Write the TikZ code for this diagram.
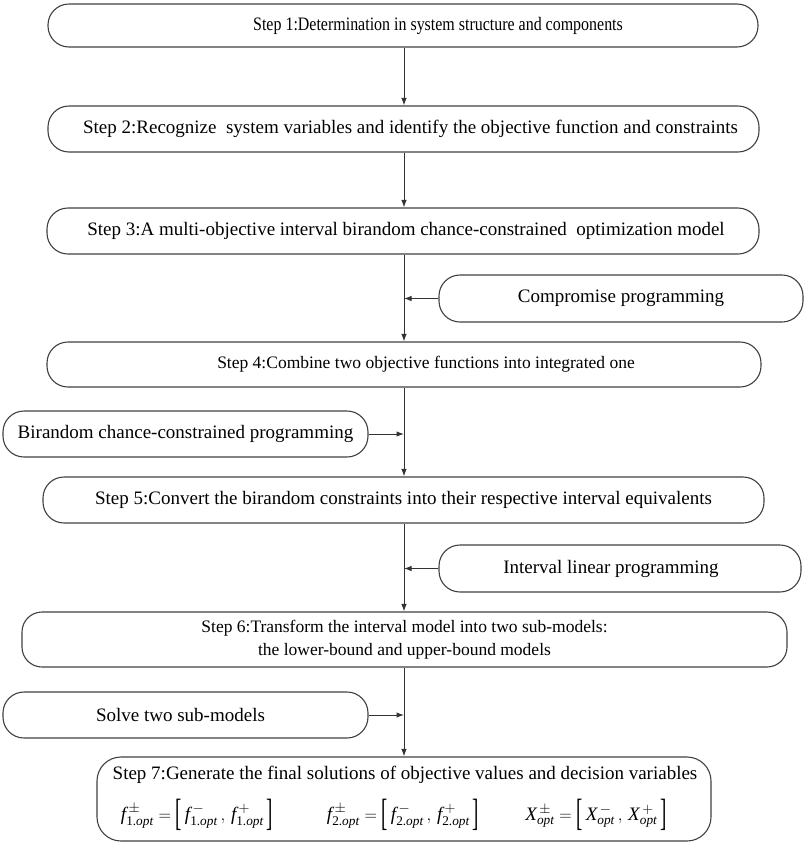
\documentclass[tikz,border=0pt]{standalone}
\usepackage{amsmath}
\usepackage{fontspec}
\setmainfont{Liberation Serif}
\usetikzlibrary{arrows.meta}
\newcommand{\mylb}{\raisebox{-0.62ex}{\scalebox{1}[2.0]{[}}}
\newcommand{\myrb}{\raisebox{-0.62ex}{\scalebox{1}[2.0]{]}}}
\begin{document}
\begin{tikzpicture}[x=1pt,y=-1pt,
  box/.style={draw=black!75, line width=1.1pt, rounded corners=21pt, inner sep=0pt,
     font=\fontsize{19}{22}\selectfont, align=center},
  smallfont/.style={font=\fontsize{17.5}{23}\selectfont},
  txt/.style={inner sep=0pt, font=\fontsize{19}{22}\selectfont},
  mathtxt/.style={inner sep=0pt, font=\fontsize{19}{20}\selectfont},
  conn/.style={draw=black!80, line width=1pt},
  arr/.style={conn, -{Latex[length=7.5pt,width=5.5pt]}}
]
\useasboundingbox (0,0) rectangle (809,844);
\node[box, minimum width=710pt, minimum height=43pt] (b1) at (403,25.5) {\hspace*{70pt}\scalebox{0.84}[1]{Step 1:Determination in system structure and components}};
\node[box, minimum width=711pt, minimum height=46pt] (b2) at (403.5,129) {\hspace*{14pt}Step 2:Recognize\ \ system variables and identify the objective function and constraints};
\node[box, minimum width=712pt, minimum height=46pt] (b3) at (403,231) {\hspace*{6pt}Step 3:A multi-objective interval birandom chance-constrained\ \ optimization model};
\node[box, minimum width=364pt, minimum height=47pt] (cp) at (621,298.5) {Compromise programming};
\node[box, smallfont, minimum width=714pt, minimum height=45pt] (b4) at (404,364.5) {\hspace*{44pt}Step 4:Combine two objective functions into integrated one};
\node[box, minimum width=365pt, minimum height=46pt] (br) at (185.5,434) {Birandom chance-constrained programming};
\node[box, minimum width=721pt, minimum height=46pt] (b5) at (403.5,500) {Step 5:Convert the birandom constraints into their respective interval equivalents};
\node[box, minimum width=362pt, minimum height=47pt] (il) at (620,568.5) {Interval linear programming\hspace*{18pt}};
\node[box, smallfont, minimum width=765pt, minimum height=55pt, rounded corners=20pt] (b6) at (404.5,639.5) {Step 6:Transform the interval model into two sub-models:\\the lower-bound and upper-bound models};
\node[box, minimum width=365pt, minimum height=46pt] (sv) at (185.5,715) {Solve two sub-models\hspace*{10pt}};
\node[box, minimum width=614pt, minimum height=84pt, rounded corners=24pt] (b7) at (404,799) {};
\node[txt] (t7) at (405,775) {Step 7:Generate the final solutions of objective values and decision variables};
\node[mathtxt] (f1) at (197,815) {$\textit{f}^{\,\pm}_{\text{1.}\textit{opt}} = \mylb\,\textit{f}^{\,-}_{\text{1.}\textit{opt}}\, ,\, \textit{f}^{\,+}_{\text{1.}\textit{opt}}\,\myrb$};
\node[mathtxt] (f2) at (403,815) {$\textit{f}^{\,\pm}_{\text{2.}\textit{opt}} = \mylb\,\textit{f}^{\,-}_{\text{2.}\textit{opt}}\, ,\, \textit{f}^{\,+}_{\text{2.}\textit{opt}}\,\myrb$};
\node[mathtxt] (f3) at (596,815) {$\textit{X}^{\,\pm}_{\textit{opt}} = \mylb\,\textit{X}^{\,-}_{\textit{opt}}\, ,\, \textit{X}^{\,+}_{\textit{opt}}\,\myrb$};
% main flow
\coordinate (mx) at (404,0);
\draw[arr] (mx |- b1.south) -- (mx |- b2.north);
\draw[arr] (mx |- b2.south) -- (mx |- b3.north);
\draw[arr] (mx |- b3.south) -- (mx |- b4.north);
\draw[arr] (mx |- b4.south) -- (mx |- b5.north);
\draw[arr] (mx |- b5.south) -- (mx |- b6.north);
\draw[arr] (mx |- b6.south) -- (mx |- b7.north);
% side inputs
\draw[arr] (cp.west) -- (cp.west -| mx);
\draw[arr] (br.east) -- (br.east -| mx);
\draw[arr] (il.west) -- (il.west -| mx);
\draw[arr] (sv.east) -- (sv.east -| mx);
\end{tikzpicture}
\end{document}
